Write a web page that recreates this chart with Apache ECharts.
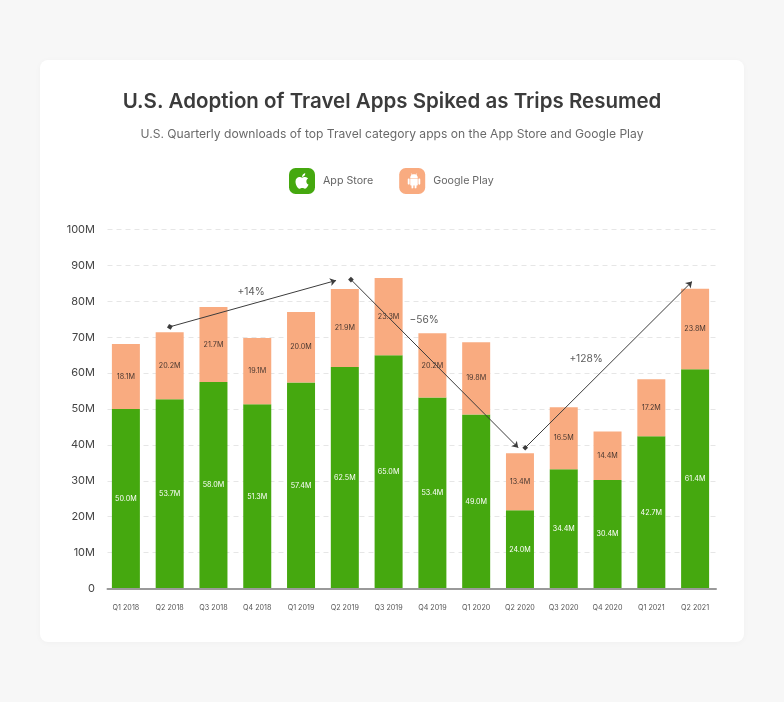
<!DOCTYPE html>
<html><head><meta charset="utf-8">
<script src="https://cdn.jsdelivr.net/npm/echarts@6/dist/echarts.min.js"></script>
<style>
html,body{margin:0;padding:0;width:784px;height:702px;background:#f7f7f7;overflow:hidden}
#card{position:absolute;left:40px;top:60px;width:704px;height:582px;background:#fff;border-radius:8px;box-shadow:0 1px 6px rgba(0,0,0,.03)}
#main{position:absolute;left:0;top:0;width:784px;height:702px}
</style></head><body>
<div id="card"></div><div id="main"></div>
<script>
const categories = ['Q1 2018','Q2 2018','Q3 2018','Q4 2018','Q1 2019','Q2 2019','Q3 2019','Q4 2019','Q1 2020','Q2 2020','Q3 2020','Q4 2020','Q1 2021','Q2 2021'];
// Bar segment sizes as drawn in the picture
const appStore = [50.0,52.7,57.5,51.3,57.4,61.7,65.0,53.2,48.5,21.8,33.2,30.2,42.4,61.1];
const googlePlay = [18.1,18.7,20.9,18.5,19.6,21.7,21.5,17.9,20.1,15.9,17.3,13.5,15.9,22.4];
// Printed labels in the picture
const appLabels = [50.0,53.7,58.0,51.3,57.4,62.5,65.0,53.4,49.0,24.0,34.4,30.4,42.7,61.4];
const playLabels = [18.1,20.2,21.7,19.1,20.0,21.9,23.3,20.2,19.8,13.4,16.5,14.4,17.2,23.8];
const yTicks = [0,10,20,30,40,50,60,70,80,90,100];
// Trend annotations: [startX,startY,endX,endY] in category index / million units
const arrowUp2018 = [1.005,72.9,4.80,85.8];
const arrowDown = [5.14,86.05,8.96,39.2];
const arrowUp2021 = [9.12,39.2,12.93,85.5];
const noteTexts = ['+14%','\u221256%','+128%'];
const noteX = [2.86,6.81,10.51];
const noteY = [82.7,74.9,64.0];

const font = 'Inter, "Open Sans", sans-serif';
const applePath = 'M318.7 268.7c-.2-36.7 16.4-64.4 50-84.8-18.8-26.9-47.2-41.7-84.7-44.6-35.5-2.8-74.3 20.7-88.5 20.7-15 0-49.4-19.7-76.4-19.7C63.3 141.2 4 184.8 4 273.5q0 39.3 14.4 81.2c12.8 36.7 59 126.7 107.2 125.2 25.2-.6 43-17.9 75.8-17.9 31.8 0 48.3 17.9 76.4 17.9 48.6-.7 90.4-82.5 102.6-119.3-65.2-30.7-61.7-90-61.7-91.9zm-56.6-164.2c27.3-32.4 24.8-61.9 24-72.5-24.1 1.4-52 16.4-67.9 34.9-17.5 19.8-27.8 44.3-25.6 71.9 26.1 2 49.9-11.4 69.5-34.3z';
const androidPath = 'M6 18c0 .55.45 1 1 1h1v3.5c0 .83.67 1.5 1.5 1.5s1.5-.67 1.5-1.5V19h2v3.5c0 .83.67 1.5 1.5 1.5s1.5-.67 1.5-1.5V19h1c.55 0 1-.45 1-1V8H6v10zM3.5 8C2.67 8 2 8.67 2 9.5v7c0 .83.67 1.5 1.5 1.5S5 17.33 5 16.5v-7C5 8.67 4.33 8 3.5 8zm17 0c-.83 0-1.5.67-1.5 1.5v7c0 .83.67 1.5 1.5 1.5s1.5-.67 1.5-1.5v-7c0-.83-.67-1.5-1.5-1.5zm-4.97-5.84l1.3-1.3c.2-.2.2-.51 0-.71-.2-.2-.51-.2-.71 0l-1.48 1.48C13.85 1.23 12.95 1 12 1c-.96 0-1.86.23-2.66.63L7.85.15c-.2-.2-.51-.2-.71 0-.2.2-.2.51 0 .71l1.31 1.31C6.97 3.26 6 5.01 6 7h12c0-1.99-.97-3.75-2.47-4.84z';

const GREEN = '#45a80f', ORANGE = '#f9ab80';
const chart = echarts.init(document.getElementById('main'));
const arrowLine = (a, startSymbol) => [
  {coord:[a[0],a[1]], symbol:startSymbol, symbolSize:startSymbol==='rect'?4:6},
  {coord:[a[2],a[3]], symbol:'arrow', symbolSize:6}
];
chart.setOption({
  animation:false,
  backgroundColor:'transparent',
  textStyle:{fontFamily:font},
  title:[
    {text:'U.S. Adoption of Travel Apps Spiked as Trips Resumed',left:'center',top:86,
     textStyle:{fontFamily:font,fontSize:20.5,fontWeight:600,color:'#3b3b3b'}},
    {text:'U.S. Quarterly downloads of top Travel category apps on the App Store and Google Play',left:'center',top:123,
     textStyle:{fontFamily:font,fontSize:12.1,fontWeight:400,color:'#6a6a6a'}}
  ],
  legend:{
    left:284,top:163,itemWidth:26,itemHeight:26,itemGap:26,icon:'roundRect',
    data:['App Store','Google Play'],selectedMode:false,
    textStyle:{fontFamily:font,fontSize:10.7,color:'#666',padding:[0,0,0,3]}
  },
  grid:[
    {left:104,right:67,top:229.5,height:359},
    {left:107.5,right:68,top:229.5,height:359}
  ],
  xAxis:[
    {type:'category',gridIndex:0,data:categories,axisLine:{show:false},axisTick:{show:false},
     axisLabel:{fontFamily:font,fontSize:7.2,color:'#555',margin:16,interval:0}},
    {type:'value',gridIndex:0,min:-0.5,max:13.5,show:false},
    {type:'value',gridIndex:1,min:0,max:1,axisLabel:{show:false},axisTick:{show:false},splitLine:{show:false},
     axisLine:{show:true,onZero:true,lineStyle:{color:'#9a9a9a',width:2}},z:10}
  ],
  yAxis:[
    {type:'value',gridIndex:0,min:0,max:100,interval:10,show:false},
    {type:'value',gridIndex:1,min:0,max:100,interval:10,axisLine:{show:false},axisTick:{show:false},
     axisLabel:{fontFamily:font,fontSize:11,color:'#444',margin:12.5,padding:[0,0,7,0],
       formatter:v=>yTicks.includes(v)?(v===0?'0':v+'M'):''},
     splitLine:{show:true,lineStyle:{color:'#e6e6e6',type:[5,4],width:1}}}
  ],
  series:[
    {name:'App Store',type:'bar',stack:'t',xAxisIndex:0,yAxisIndex:0,barWidth:28,data:appStore,
     itemStyle:{color:GREEN},
     label:{show:true,position:'inside',fontFamily:font,fontSize:7.2,color:'#fff',
       formatter:p=>appLabels[p.dataIndex].toFixed(1)+'M'}},
    {name:'Google Play',type:'bar',stack:'t',xAxisIndex:0,yAxisIndex:0,barWidth:28,data:googlePlay,
     itemStyle:{color:ORANGE},
     label:{show:true,position:'inside',fontFamily:font,fontSize:7.2,color:'#4a3830',
       formatter:p=>playLabels[p.dataIndex].toFixed(1)+'M'}},
    {name:'notes',type:'scatter',xAxisIndex:1,yAxisIndex:0,z:6,symbolSize:0,silent:true,
     data:noteX.map((x,i)=>[x,noteY[i]]),
     label:{show:true,position:'inside',fontFamily:font,fontSize:10.2,color:'#2f2f2f',
       formatter:p=>noteTexts[p.dataIndex]},
     markLine:{silent:true,animation:false,label:{show:false},emphasis:{disabled:true},z:6,
       lineStyle:{color:'#3c3c3c',width:1,type:'solid'},
       data:[arrowLine(arrowUp2018,'diamond'),arrowLine(arrowDown,'rect'),arrowLine(arrowUp2021,'rect')]}},
    {name:'icons',type:'custom',coordinateSystem:'none',silent:true,z:20,data:[0],
     renderItem:()=>({type:'group',children:[
       {type:'path',shape:{pathData:applePath,x:295.5,y:173,width:13,height:16},style:{fill:'#fff'}},
       {type:'path',shape:{pathData:androidPath,x:406.5,y:173.5,width:15,height:15},style:{fill:'#fff'}}
     ]})}
  ]
});
</script></body></html>
